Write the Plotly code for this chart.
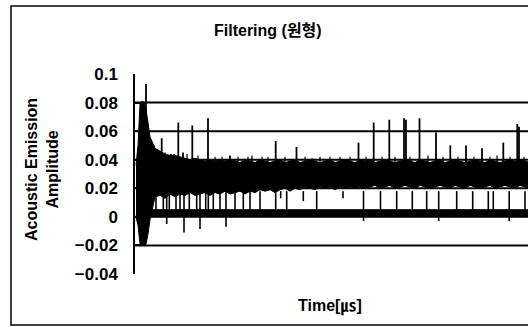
import plotly.graph_objects as go

# ---- data (time in µs, amplitude) ----
title_text = "Filtering (원형)"
y_title = "Acoustic Emission<br>Amplitude"
x_title = "Time[㎲]"

tick_vals = [0.1, 0.08, 0.06, 0.04, 0.02, 0, -0.02, -0.04]
tick_text = ["0.1", "0.08", "0.06", "0.04", "0.02", "0", "\u22120.02", "\u22120.04"]
grid_vals = [0.08, 0.06, 0.04, 0.02, 0, -0.02]

# envelope of the dense signal band
env_t = [10, 30, 50, 70, 90, 110, 130, 150, 200, 250, 300, 350, 400, 450, 500, 550,
         600, 650, 700, 750, 800, 850, 900, 950, 1000, 1050, 1100, 1150, 1200, 1250,
         1300, 1350, 1400, 1450, 1500, 1550, 1600, 1650, 1700, 1750, 1800, 1850, 1900,
         1950, 2000, 2050, 2100, 2150, 2200, 2250, 2300, 2350, 2400, 2450, 2500, 2550,
         2600, 2650, 2700, 2750, 2800, 2850, 2900, 2950, 3000, 3050, 3100, 3150, 3200,
         3250, 3300, 3350, 3400, 3450, 3500, 3550, 3600, 3650, 3700, 3750, 3800, 3850,
         3900, 3950]
env_hi = [0.036, 0.050, 0.079, 0.081, 0.080, 0.075, 0.066, 0.056, 0.048, 0.046, 0.044,
          0.043, 0.043, 0.042, 0.041, 0.040, 0.041, 0.040, 0.039, 0.040, 0.039, 0.040,
          0.039, 0.040, 0.039, 0.038, 0.040, 0.039, 0.038, 0.040, 0.039, 0.038, 0.039,
          0.040, 0.038, 0.039, 0.040, 0.038, 0.039, 0.040, 0.039, 0.038, 0.039, 0.040,
          0.038, 0.039, 0.040, 0.039, 0.038, 0.040, 0.039, 0.040, 0.038, 0.039, 0.040,
          0.039, 0.038, 0.039, 0.040, 0.039, 0.038, 0.040, 0.039, 0.038, 0.039, 0.040,
          0.038, 0.039, 0.040, 0.039, 0.038, 0.039, 0.040, 0.039, 0.038, 0.040, 0.039,
          0.038, 0.039, 0.040, 0.039, 0.040, 0.039, 0.038]
env_lo = [0.000, -0.006, -0.019, -0.020, -0.020, -0.019, -0.012, -0.002, 0.014, 0.015,
          0.013, 0.016, 0.014, 0.016, 0.015, 0.017, 0.015, 0.016, 0.017, 0.015, 0.017,
          0.016, 0.018, 0.016, 0.017, 0.018, 0.016, 0.018, 0.017, 0.019, 0.018, 0.019,
          0.017, 0.019, 0.020, 0.018, 0.020, 0.019, 0.021, 0.020, 0.019, 0.021, 0.020,
          0.021, 0.019, 0.021, 0.020, 0.021, 0.020, 0.021, 0.020, 0.021, 0.022, 0.020,
          0.021, 0.022, 0.020, 0.021, 0.022, 0.021, 0.020, 0.022, 0.021, 0.020, 0.021,
          0.022, 0.021, 0.020, 0.022, 0.021, 0.020, 0.022, 0.021, 0.020, 0.021, 0.022,
          0.020, 0.021, 0.022, 0.021, 0.020, 0.022, 0.021, 0.020]

# thick band just above zero
base_t = [10, 3950]
base_hi = [0.0050, 0.0050]
base_lo = [0.0003, 0.0003]

# large upward spikes: time, peak amplitude
spike_t = [110, 190, 267, 360, 433, 480, 573, 730, 950, 1407, 1615, 2235, 2387, 2543,
           2690, 2710, 2845, 3010, 3153, 3310, 3470, 3683, 3823, 3840]
spike_v = [0.093, 0.050, 0.055, 0.044, 0.066, 0.045, 0.064, 0.069, 0.043, 0.053, 0.049,
           0.052, 0.066, 0.068, 0.069, 0.068, 0.069, 0.059, 0.050, 0.050, 0.048, 0.052,
           0.065, 0.063]

# small ticks above the band
tic_t = [300, 390, 520, 630, 800, 870, 1030, 1130, 1170, 1270, 1330, 1500, 1700, 1770,
         1850, 1950, 2050, 2150, 2310, 2470, 2600, 2750, 2930, 3080, 3230, 3390, 3550,
         3620, 3750, 3890]
tic_v = [0.045, 0.044, 0.044, 0.043, 0.042, 0.042, 0.042, 0.042, 0.043, 0.042, 0.042,
         0.042, 0.042, 0.041, 0.042, 0.042, 0.042, 0.042, 0.042, 0.042, 0.042, 0.042,
         0.043, 0.042, 0.042, 0.042, 0.042, 0.043, 0.042, 0.042]

# downward strokes from the band: time, lowest amplitude
dip_t = [210, 283, 317, 343, 410, 450, 490, 543, 617, 650, 707, 733, 783, 850, 910,
         1000, 1083, 1150, 1250, 1407, 1457, 1517, 1683, 1817, 2080, 2285, 2455, 2617,
         2773, 2917, 3037, 3217, 3377, 3533, 3583, 3742, 3900]
dip_v = [0.003, 0.004, -0.005, 0.003, 0.004, 0.003, -0.011, 0.004, 0.003, -0.0085,
         0.004, 0.003, 0.004, 0.003, -0.007, 0.003, 0.004, 0.003, 0.003, 0.003, 0.013,
         0.003, 0.011, 0.004, 0.013, -0.003, 0.003, 0.003, 0.003, 0.003, -0.003, 0.003,
         0.003, 0.003, 0.003, -0.003, 0.003]
dip_from = 0.018

x_range = [0, 3930]
y_range = [-0.04, 0.1]

# ---- figure ----
fig = go.Figure()

fig.add_trace(go.Scatter(x=base_t, y=base_lo, mode="lines", line=dict(width=0, color="black"),
                         showlegend=False, hoverinfo="skip"))
fig.add_trace(go.Scatter(x=base_t, y=base_hi, mode="lines", line=dict(width=1, color="black"),
                         fill="tonexty", fillcolor="black", showlegend=False, hoverinfo="skip"))
fig.add_trace(go.Scatter(x=env_t, y=env_lo, mode="lines", line=dict(width=1, color="black"),
                         showlegend=False, hoverinfo="skip"))
fig.add_trace(go.Scatter(x=env_t, y=env_hi, mode="lines", line=dict(width=1, color="black"),
                         fill="tonexty", fillcolor="black", showlegend=False, hoverinfo="skip"))

def segments(ts, v0, vs):
    xs, ys = [], []
    for t, v in zip(ts, vs):
        xs += [t, t, None]
        ys += [v0, v, None]
    return xs, ys

sx, sy = segments(spike_t, 0.037, spike_v)
fig.add_trace(go.Scatter(x=sx, y=sy, mode="lines", line=dict(width=1.8, color="black"),
                         showlegend=False, hoverinfo="skip"))
tx, ty = segments(tic_t, 0.037, tic_v)
fig.add_trace(go.Scatter(x=tx, y=ty, mode="lines", line=dict(width=1.2, color="black"),
                         showlegend=False, hoverinfo="skip"))
dx, dy = segments(dip_t, dip_from, dip_v)
fig.add_trace(go.Scatter(x=dx, y=dy, mode="lines", line=dict(width=1.6, color="black"),
                         showlegend=False, hoverinfo="skip"))

shapes = []
for g in grid_vals:
    shapes.append(dict(type="line", xref="paper", yref="y", x0=0, x1=1, y0=g, y1=g,
                       line=dict(color="black", width=2), layer="below"))
# outer chart border
shapes.append(dict(type="rect", xref="paper", yref="paper",
                   x0=(11 - 135) / 393, x1=1.05, y0=(274 - 325) / 200, y1=(274 - 6) / 200,
                   line=dict(color="black", width=1.5), layer="below"))

font_family = "Liberation Sans, Arial, sans-serif"
cjk_family = "Liberation Sans, Noto Sans CJK KR, sans-serif"
annotations = [
    dict(text=f"<b>{title_text}</b>", xref="paper", yref="paper", x=(268 - 135) / 393,
         y=(274 - 30) / 200, showarrow=False, xanchor="center", yanchor="middle",
         font=dict(size=16, color="black", family=cjk_family)),
    dict(text=f"<b>{y_title}</b>", xref="paper", yref="paper", x=(42 - 135) / 393,
         y=(274 - 170) / 200, showarrow=False, textangle=-90, xanchor="center",
         yanchor="middle", font=dict(size=16, color="black", family=font_family)),
    dict(text=f"<b>{x_title}</b>", xref="paper", yref="paper", x=(330 - 135) / 393,
         y=(274 - 306) / 200, showarrow=False, xanchor="center", yanchor="middle",
         font=dict(size=16, color="black", family=cjk_family)),
]

fig.update_layout(
    width=528, height=327,
    margin=dict(l=135, r=0, t=74, b=53),
    paper_bgcolor="white", plot_bgcolor="white",
    shapes=shapes, annotations=annotations,
    xaxis=dict(range=x_range, showline=False, showticklabels=False, showgrid=False,
               zeroline=False, ticks=""),
    yaxis=dict(range=y_range, tickvals=tick_vals, ticktext=tick_text, showgrid=False,
               zeroline=False, showline=True, linecolor="black", linewidth=1.5,
               ticks="inside", ticklen=5, tickwidth=1.5, tickcolor="black",
               ticklabelstandoff=12,
               tickfont=dict(size=17, color="black", family=font_family, weight="bold")),
)

fig.write_html("out.html", config={"displayModeBar": False},
               post_script="document.body.style.margin='0';")
